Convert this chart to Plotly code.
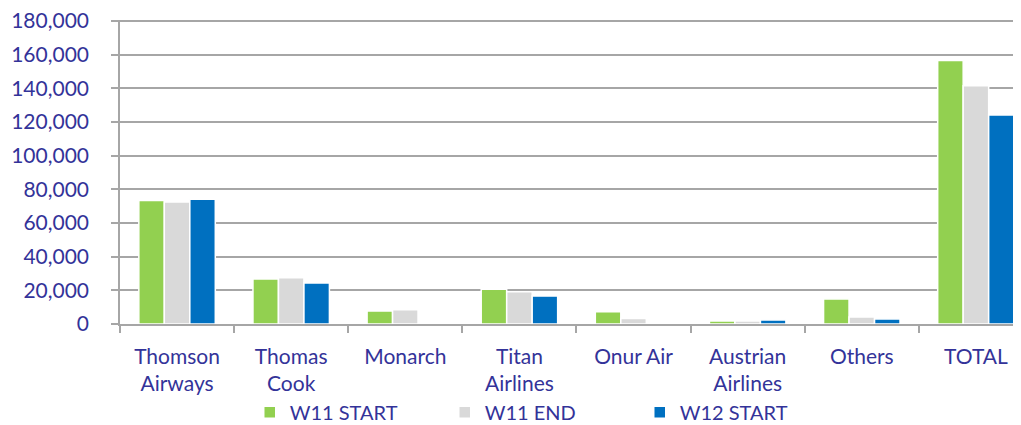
import plotly.graph_objects as go

categories = ["Thomson<br>Airways", "Thomas<br>Cook", "Monarch", "Titan<br>Airlines",
              "Onur Air", "Austrian<br>Airlines", "Others", "TOTAL"]
w11_start = [73300, 26700, 7700, 20600, 7300, 1800, 14900, 156500]
w11_end = [72500, 27500, 8500, 19200, 3200, 1800, 4200, 141600]
w12_start = [74100, 24400, 0, 16600, 0, 2400, 3000, 124200]

series = [("W11 START", w11_start, "#92d050"),
          ("W11 END", w11_end, "#d9d9d9"),
          ("W12 START", w12_start, "#0070c0")]

font_color = "#333399"
font_family = "Lato, 'Open Sans', sans-serif"

fig = go.Figure()
for name, vals, col in series:
    fig.add_trace(go.Bar(x=categories, y=vals, name=name,
                         marker=dict(color=col, line=dict(color="white", width=1.5))))

fig.update_layout(
    width=1013, height=425,
    margin=dict(l=112, r=0, t=12, b=109, autoexpand=False),
    paper_bgcolor="white", plot_bgcolor="white",
    barmode="group", bargap=0.33, bargroupgap=0.0,
    font=dict(family=font_family, color=font_color, size=21),
    showlegend=True,
    legend=dict(orientation="h", x=0.144, xanchor="left", y=-0.226, yanchor="top",
                entrywidth=150, entrywidthmode="pixels",
                font=dict(size=20, color=font_color), traceorder="normal",
                itemwidth=30),
    xaxis=dict(type="category", range=[-0.5, 7.395], automargin=False,
               showline=True, linecolor="#a6a6a6", linewidth=1.5,
               ticks="outside", ticklen=7, tickcolor="#a6a6a6", tickwidth=1.5,
               tickson="boundaries", showgrid=False, ticklabeloverflow="allow",
               tickfont=dict(size=21, color=font_color), ticklabelstandoff=13),
    yaxis=dict(range=[0, 180600], dtick=20000, tickformat=",d", automargin=False,
               showline=True, linecolor="#a6a6a6", linewidth=1.5,
               ticks="outside", ticklen=7, tickcolor="#a6a6a6", tickwidth=1.5,
               showgrid=True, gridcolor="#a6a6a6", gridwidth=1.5,
               zeroline=False, ticklabeloverflow="allow",
               tickfont=dict(size=21, color=font_color), ticklabelstandoff=18),
)

fig.write_html("out.html")
